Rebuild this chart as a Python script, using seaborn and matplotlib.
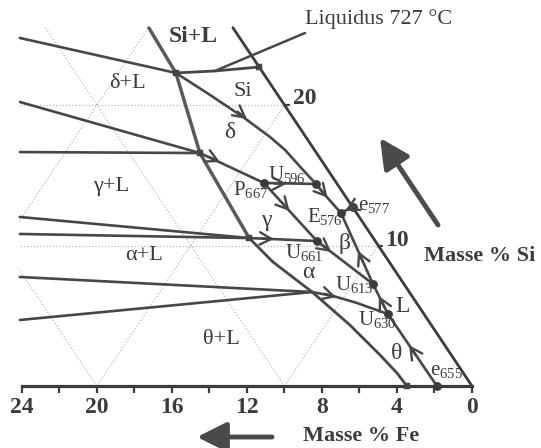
import numpy as np
import matplotlib
matplotlib.use("Agg")
import matplotlib.pyplot as plt
import seaborn as sns

# ---------------- data: compositions in mass % (Fe, Si) ----------------
# boundary of the primary Si / delta / gamma fields (thick line) and alpha field
si_field_fe = [4.49, 4.65, 6.22, 6.62]
si_field_si = [25.48, 22.28, 16.58, 10.53]
alpha_fe = [6.62, 6.20, 5.18, 4.34, 3.80, 3.54, 3.47]
alpha_si = [10.53, 8.83, 6.69, 4.34, 2.21, 0.93, 0.0]
# liquidus isotherm 727 °C
iso_fe = [4.65, 2.50, 0.0]
iso_si = [22.28, 22.42, 22.70]
# delta/Si then Si/beta valley down to E576
dsi_fe = [4.65, 3.61, 2.64, 1.91, 1.57, 1.32, 1.13, 1.04, 0.83]
dsi_si = [22.28, 20.71, 19.15, 17.72, 16.80, 15.37, 14.38, 13.59, 12.31]
# tie lines coming from the left border
left_start_fe = [11.73, 14.00, 15.78, 18.10, 18.70, 20.23, 21.76]
left_start_si = [24.77, 20.21, 16.65, 12.03, 10.82, 7.76, 4.70]
left_end_fe = [4.65, 6.22, 6.22, 6.62, 6.62, 5.18, 5.18]
left_end_si = [22.28, 16.58, 16.58, 10.53, 10.53, 6.69, 6.69]
# monovariant valleys
v_j2_p667_fe, v_j2_p667_si = [6.22, 3.87], [16.58, 14.45]
v_p667_u596_fe, v_p667_u596_si = [3.87, 1.13], [14.45, 14.38]
v_p667_u661_fe, v_p667_u661_si = [3.87, 3.11], [14.45, 10.32]
v_j3_u661_fe, v_j3_u661_si = [6.62, 3.11], [10.53, 10.32]
v_u661_u613_fe, v_u661_u613_si = [3.11, 1.65], [10.32, 7.26]
v_e576_u613_fe, v_e576_u613_si = [0.83, 1.65], [12.31, 7.26]
v_e577_e576_fe, v_e577_e576_si = [0.0, 0.83], [12.74, 12.31]
v_j4_u630_fe, v_j4_u630_si = [5.18, 4.21, 3.18, 1.92], [6.69, 6.41, 5.91, 5.12]
v_u630_u613_fe, v_u630_u613_si = [1.92, 1.65], [5.12, 7.26]
v_e655_u630_fe, v_e655_u630_si = [1.87, 1.92], [0.0, 5.12]

# invariant points
inv_names = ["P667", "U596", "E576", "e577", "U661", "U613", "U630", "e655"]
inv_fe = [3.87, 1.13, 0.83, 0.0, 3.11, 1.65, 1.92, 1.87]
inv_si = [14.45, 14.38, 12.31, 12.74, 10.32, 7.26, 5.12, 0.0]
# junction squares
jn_fe = [4.65, 6.22, 6.62, 0.0, 3.47]
jn_si = [22.28, 16.58, 10.53, 22.70, 0.0]

# arrows on valleys: head position and the point they run towards
arr_fe = [2.50, 5.47, 2.68, 1.00, 0.54, 3.50, 5.33, 2.74, 1.27, 4.08, 1.76, 1.90]
arr_si = [19.00, 15.94, 14.40, 13.40, 12.46, 12.46, 10.46, 9.54, 9.61, 6.33, 6.40, 2.90]
arr_to_fe = [1.91, 3.87, 1.13, 0.83, 0.83, 3.11, 3.11, 1.65, 0.83, 3.18, 1.65, 1.92]
arr_to_si = [17.72, 14.45, 14.38, 12.31, 12.31, 10.32, 10.32, 7.26, 12.31, 5.91, 7.26, 5.12]

# axes of the Al corner
fe_ticks = list(range(0, 25, 2))
fe_labels = [24, 20, 16, 12, 8, 4, 0]
si_ticks = [10, 20]
si_top = 25.5

# dotted composition grid (start, end)
grid_fe0 = [19.11, 14.11, 10, 20, 10, 20, 18.27]
grid_si0 = [10, 20, 0, 0, 0, 0, 11.73]
grid_fe1 = [0, 0, 10, 20, 0, 0, 4.5]
grid_si1 = [10, 20, 25.5, 8.32, 10, 20, 25.5]

# ---------------- drawing ----------------
sns.set_theme(style="white")
plt.rcParams["font.family"] = ["Liberation Serif", "DejaVu Serif"]
plt.rcParams["mathtext.fontset"] = "custom"
plt.rcParams["mathtext.rm"] = "Liberation Serif"
plt.rcParams["mathtext.it"] = "Liberation Serif:italic"
plt.rcParams["mathtext.bf"] = "Liberation Serif:bold"

W, H = 541, 448
fig = plt.figure(figsize=(W / 100, H / 100), dpi=100)
ax = fig.add_axes([0, 0, 1, 1])
ax.set_xlim(25.17, -3.68)
ax.set_ylim(-4.41, 27.47)


def tern(fe, si):
    fe = np.asarray(fe, dtype=float)
    si = np.asarray(si, dtype=float)
    return fe + si / 2.0, si


def curve(fe, si, color="#4a4a4a", lw=1.8, **kw):
    x, y = tern(fe, si)
    sns.lineplot(x=x, y=y, sort=False, estimator=None, color=color,
                 linewidth=lw, ax=ax, legend=False, **kw)


INK = "#3c3c3c"
LINE = "#474747"

# grid
for a, b, c, d in zip(grid_fe0, grid_si0, grid_fe1, grid_si1):
    curve([a, c], [b, d], color="#b8b8b8", lw=0.9, linestyle=(0, (1, 1.6)))

# Si axis (Fe = 0)
curve([0, 0], [0, si_top], color=INK, lw=2.0)
for s in si_ticks:
    x, y = tern([0, -0.22], [s, s])
    ax.plot(x, y, color=INK, lw=1.6)

# bottom Fe axis via spine
ax.spines["bottom"].set_position(("data", 0))
ax.spines["bottom"].set_bounds(0, 24)
ax.spines["bottom"].set_linewidth(2.3)
ax.spines["bottom"].set_color(INK)
for sp in ["left", "right", "top"]:
    ax.spines[sp].set_visible(False)
ax.set_xticks([t for t in fe_ticks if t % 4 == 0], labels=[str(v) for v in sorted(fe_labels)])
ax.set_xticks([t for t in fe_ticks if t % 4 != 0], minor=True)
ax.tick_params(axis="x", which="both", direction="out", length=5, width=1.6,
               color=INK, pad=3, labelsize=17, labelcolor=INK, bottom=True)
for lbl in ax.get_xticklabels():
    lbl.set_fontweight("bold")
ax.set_yticks([])
ax.grid(False)

# boundaries
curve(si_field_fe, si_field_si, color="#5a5a5a", lw=2.5)
curve(alpha_fe, alpha_si, color=LINE, lw=2.0)
curve(iso_fe, iso_si, color=LINE, lw=2.0)
curve(dsi_fe, dsi_si, color=LINE, lw=1.9)
for a, b, c, d in zip(left_start_fe, left_start_si, left_end_fe, left_end_si):
    curve([a, c], [b, d], color=LINE, lw=1.9)
for fe, si in [(v_j2_p667_fe, v_j2_p667_si), (v_p667_u596_fe, v_p667_u596_si),
               (v_p667_u661_fe, v_p667_u661_si), (v_j3_u661_fe, v_j3_u661_si),
               (v_u661_u613_fe, v_u661_u613_si), (v_e576_u613_fe, v_e576_u613_si),
               (v_e577_e576_fe, v_e577_e576_si), (v_j4_u630_fe, v_j4_u630_si),
               (v_u630_u613_fe, v_u630_u613_si), (v_e655_u630_fe, v_e655_u630_si)]:
    curve(fe, si, color=LINE, lw=1.9)

# markers
jx, jy = tern(jn_fe, jn_si)
sns.scatterplot(x=jx, y=jy, marker="s", s=16, color="#444444", edgecolor="#444444",
                ax=ax, legend=False, zorder=5)
ix, iy = tern(inv_fe, inv_si)
sns.scatterplot(x=ix, y=iy, marker="o", s=34, color="#3a3a3a", edgecolor="#3a3a3a",
                ax=ax, legend=False, zorder=6)

# arrows along valleys
fig.canvas.draw()
for hf, hs, tf, ts in zip(arr_fe, arr_si, arr_to_fe, arr_to_si):
    hx, hy = tern(hf, hs)
    tx, ty = tern(tf, ts)
    p0 = ax.transData.transform((float(hx), float(hy)))
    p1 = ax.transData.transform((float(tx), float(ty)))
    d = p1 - p0
    d = d / np.hypot(*d)
    ax.annotate("", xy=(float(hx), float(hy)), xycoords="data",
                xytext=(-d[0] * 12, -d[1] * 12), textcoords="offset pixels",
                arrowprops=dict(arrowstyle="->,head_length=0.6,head_width=0.32",
                                color=LINE, lw=1.7, mutation_scale=14,
                                shrinkA=0, shrinkB=0), zorder=7)


def at(x, y):
    return x / W, 1 - y / H


def put(s, x, y, size=16, weight="normal", ha="center", va="center"):
    ax.text(*at(x, y), s, transform=ax.transAxes, fontsize=size, fontweight=weight,
            ha=ha, va=va, color=INK, zorder=8)


# Liquidus leader and label
lx, ly = tern(iso_fe[1], iso_si[1])
ax.annotate("", xy=(float(lx), float(ly)), xycoords="data", xytext=at(305, 33),
            textcoords="axes fraction",
            arrowprops=dict(arrowstyle="-", color=LINE, lw=1.8, shrinkA=0, shrinkB=0))
put("Liquidus 727 °C", 305, 19, size=16, ha="left")

# field labels
put("Si+L", 193, 36, size=17, weight="bold")
put("δ+L", 127, 83)
put("Si", 243, 92)
put("δ", 230, 132, size=17)
put("γ+L", 111, 186)
put("γ", 266, 220, size=17)
put("α+L", 144, 255)
put("α", 308, 272, size=17)
put("β", 345, 243, size=17)
put("θ+L", 221, 339)
put("θ", 397, 353, size=17)
put("L", 403, 307, size=17)

# invariant point labels
pt_pos = {"P667": (233, 195), "U596": (268, 180), "E576": (307, 222), "e577": (358, 210),
          "U661": (285, 258), "U613": (335, 290), "U630": (358, 325), "e655": (430, 375)}
for nm in inv_names:
    x, y = pt_pos[nm]
    put(r"$\mathregular{%s_{%s}}$" % (nm[0], nm[1:]), x, y, size=15, ha="left", va="baseline")

# Si axis numbers
put("20", 305, 98, size=17, weight="bold")
put("10", 397, 240, size=17, weight="bold")

# axis titles and direction arrows
put("Masse % Si", 480, 256, size=16, weight="bold")
put("Masse % Fe", 361, 436, size=16, weight="bold")
ax.annotate("", xy=at(380, 138), xycoords="axes fraction", xytext=at(438, 225),
            textcoords="axes fraction",
            arrowprops=dict(arrowstyle="-|>,head_length=0.9,head_width=0.45",
                            color="#4a4a4a", lw=3.5, mutation_scale=20, shrinkA=0, shrinkB=0))
ax.annotate("", xy=at(197, 437), xycoords="axes fraction", xytext=at(272, 437),
            textcoords="axes fraction",
            arrowprops=dict(arrowstyle="-|>,head_length=0.9,head_width=0.45",
                            color="#4a4a4a", lw=3.5, mutation_scale=20, shrinkA=0, shrinkB=0))

fig.savefig("out.png", dpi=100, facecolor="white")
